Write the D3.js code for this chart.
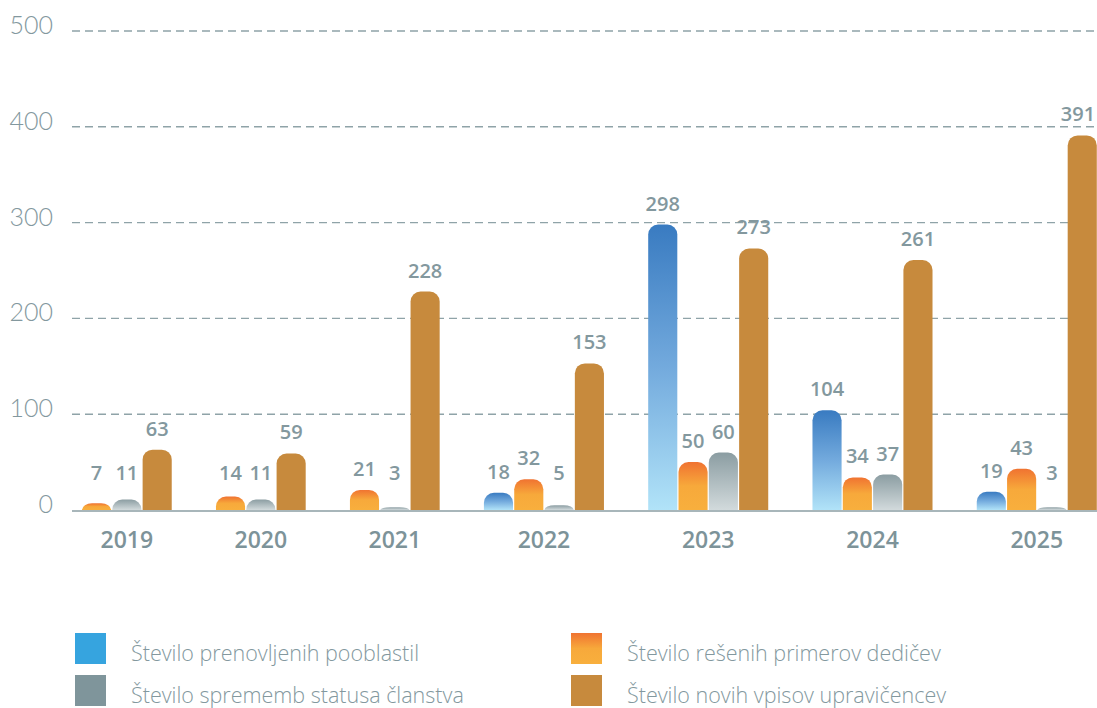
<!DOCTYPE html>
<html>
<head>
<meta charset="utf-8">
<script src="https://cdn.jsdelivr.net/npm/d3@7"></script>
<style>
  body { margin: 0; background: #fff; }
  svg { display: block; font-family: "Open Sans", "Lato", sans-serif; }
</style>
</head>
<body>
<div id="chart"></div>
<script>
// chart data
var years = ["2019", "2020", "2021", "2022", "2023", "2024", "2025"];
var seriesNames = [
    "Število prenovljenih pooblastil",
    "Število rešenih primerov dedičev",
    "Število sprememb statusa članstva",
    "Število novih vpisov upravičencev"
];
var prenovljene = [null, null, null, 18, 298, 104, 19];
var reseni = [7, 14, 21, 32, 50, 34, 43];
var spremembe = [11, 11, 3, 5, 60, 37, 3];
var vpisi = [63, 59, 228, 153, 273, 261, 391];
var yTicks = [0, 100, 200, 300, 400, 500];

var seriesValues = [prenovljene, reseni, spremembe, vpisi];
var fills = ["url(#g_blue)", "url(#g_orange)", "url(#g_grey)", "#c78a3d"];
var legendFills = ["#36a4df", "url(#g_orange)", "#7f959b", "#c78a3d"];
// bars drawn in this order inside a group
var barOrder = [0, 1, 2, 3];
// legend order: left column then right column
var legendOrder = [[0, 2], [1, 3]];

var WIDTH = 1097, HEIGHT = 708;
var textColor = "#83989e";

var svg = d3.select("#chart")
    .append("svg")
    .attr("width", WIDTH)
    .attr("height", HEIGHT);

// gradients
var defs = svg.append("defs");
function addGradient(id, stops) {
    var g = defs.append("linearGradient")
        .attr("id", id)
        .attr("x1", 0).attr("y1", 0)
        .attr("x2", 0).attr("y2", 1);
    stops.forEach(function(s) {
        g.append("stop").attr("offset", s[0]).attr("stop-color", s[1]);
    });
}
addGradient("g_blue", [[0, "#397bc1"], [0.5, "#73aadd"], [1, "#b1e3f8"]]);
addGradient("g_orange", [[0, "#f07331"], [0.5, "#f7a93b"], [1, "#f8af3d"]]);
addGradient("g_grey", [[0, "#8b9da2"], [1, "#d2dadc"]]);

// bar slots: zero / missing bars take no room, groups separated by a gap
var GAP = 1.42;
var bars = [], groups = [];
var pos = 0;
years.forEach(function(yr, i) {
    if (i > 0) pos += GAP;
    var start = pos;
    barOrder.forEach(function(s) {
        var v = seriesValues[s][i];
        if (v != null) {
            bars.push({year: yr, series: s, value: v, slot: pos});
            pos += 1;
        }
    });
    groups.push({year: yr, start: start, end: pos});
});

var xScale = d3.scaleLinear().domain([0, pos]).range([82, 1098]);
var yScale = d3.scaleLinear().domain([0, 500]).range([510, 31]);

// grid lines
svg.append("g")
    .selectAll("line")
    .data(yTicks.filter(function(t) { return t > 0; }))
    .enter().append("line")
    .attr("x1", 72)
    .attr("x2", WIDTH)
    .attr("y1", function(d) { return yScale(d); })
    .attr("y2", function(d) { return yScale(d); })
    .attr("stroke", "#8fa3a8")
    .attr("stroke-width", 1.4)
    .style("stroke-dasharray", "8, 5");

// y labels
svg.append("g")
    .selectAll("text")
    .data(yTicks)
    .enter().append("text")
    .attr("x", 53)
    .attr("y", function(d) { return yScale(d) + 3; })
    .style("text-anchor", "end")
    .style("font-family", "Lato, sans-serif")
    .style("font-size", "25px")
    .style("font-weight", 300)
    .attr("fill", textColor)
    .text(function(d) { return d; });

// rounded-top bar path
function barPath(x, y, w, h) {
    var r = Math.min(10, w / 2);
    var ry = Math.min(r, h);
    return "M" + x + "," + (y + h) +
        "V" + (y + ry) +
        "A" + r + "," + ry + " 0 0 1 " + (x + r) + "," + y +
        "H" + (x + w - r) +
        "A" + r + "," + ry + " 0 0 1 " + (x + w) + "," + (y + ry) +
        "V" + (y + h) + "Z";
}

var unit = xScale(1) - xScale(0);
var barW = unit - 1.2;

svg.append("g")
    .selectAll("path")
    .data(bars)
    .enter().append("path")
    .attr("d", function(d) {
        var top = yScale(d.value);
        return barPath(xScale(d.slot), top, barW, yScale(0) - top);
    })
    .attr("fill", function(d) { return fills[d.series]; });

// baseline
svg.append("line")
    .attr("x1", 72)
    .attr("x2", WIDTH)
    .attr("y1", yScale(0) + 1)
    .attr("y2", yScale(0) + 1)
    .attr("stroke", "#a8b6ba")
    .attr("stroke-width", 2);

// value labels (kept inside the right edge)
svg.append("g")
    .selectAll("text")
    .data(bars)
    .enter().append("text")
    .attr("x", function(d) { return Math.min(xScale(d.slot) + barW / 2, WIDTH - 19); })
    .attr("y", function(d) { return Math.min(yScale(d.value) - 21, yScale(0) - 37); })
    .attr("dy", ".35em")
    .style("text-anchor", "middle")
    .style("font-size", "20px")
    .style("font-weight", 600)
    .attr("fill", textColor)
    .text(function(d) { return d.value; });

// year labels
svg.append("g")
    .selectAll("text")
    .data(groups)
    .enter().append("text")
    .attr("x", function(d) { return (xScale(d.start) + xScale(d.end) - 1.2) / 2; })
    .attr("y", 548)
    .style("text-anchor", "middle")
    .style("font-size", "23px")
    .style("font-weight", 600)
    .attr("fill", "#7d9399")
    .text(function(d) { return d.year; });

// legend
var legendX = [75, 571], legendY = [633, 675];
legendOrder.forEach(function(col, c) {
    col.forEach(function(s, r) {
        svg.append("rect")
            .attr("x", legendX[c])
            .attr("y", legendY[r])
            .attr("width", 31)
            .attr("height", 31)
            .attr("fill", legendFills[s]);
        svg.append("text")
            .attr("x", legendX[c] + 56)
            .attr("y", legendY[r] + 27.5)
            .style("font-size", "21.5px")
            .style("font-weight", 300)
            .attr("fill", textColor)
            .text(seriesNames[s]);
    });
});
</script>
</body>
</html>
